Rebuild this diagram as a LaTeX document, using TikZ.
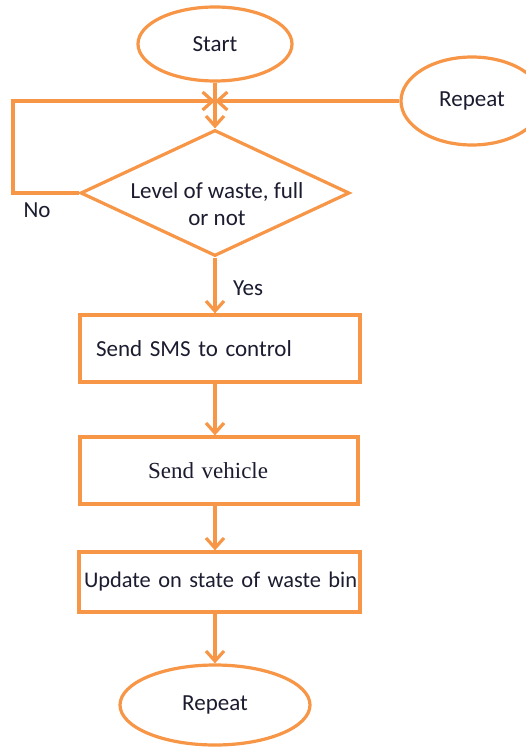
\documentclass[tikz,border=0pt]{standalone}
\usepackage{fontspec}
\setmainfont{Carlito}
\newfontfamily\timesfont{Liberation Serif}
\usetikzlibrary{shapes.geometric, arrows.meta}
\definecolor{binorange}{HTML}{F79646}
\definecolor{bintext}{HTML}{1C1C30}

\begin{document}
\begin{tikzpicture}[x=1pt, y=-1pt, line width=3.2pt, font=\fontsize{23}{27}\selectfont,
    every node/.style={draw=binorange, text=bintext, inner sep=0pt},
    plain/.style={draw=none},
    flow/.style={draw=binorange, -{Straight Barb[length=10pt,width=18pt]}}]
    \useasboundingbox[fill=white] (0,0) rectangle (526,749);
    % terminals
    \node[ellipse, minimum width=154, minimum height=74] (start) at (215,44) {Start};
    \node[ellipse, minimum width=142, minimum height=88] (rep1) at (472,101) {Repeat};
    \node[ellipse, minimum width=190, minimum height=80] (rep2) at (215,705) {Repeat};
    % decision
    \node[diamond, minimum width=269, minimum height=126] (level) at (215,193) {};
    \node[plain, align=center] (leveltxt) at (217,204) {Level of waste, full\\or not};
    % steps
    \node[rectangle, minimum width=280, minimum height=67, text width=248, inner xsep=16pt, align=left] (sms) at (220,348.5) {Send SMS to control};
    \node[rectangle, minimum width=278, minimum height=67, text width=246, inner xsep=16pt, align=left] (vehicle) at (219,470.5) {\hspace*{52pt}\timesfont Send vehicle};
    \node[rectangle, minimum width=281, minimum height=60, text width=271, inner xsep=5pt, align=center, font=\fontsize{22.4}{27}\selectfont] (update) at (219.5,582) {\raisebox{4pt}{Update on state of waste bin}};
    % labels
    \node[plain] (no) at (37,210) {No};
    \node[plain] (yes) at (248,288) {Yes};
    % connectors
    \coordinate (join) at (215,101);
    \coordinate (loopleft) at (13,101);
    \draw[flow] (start.south) -- (level.north);
    \draw[flow] (level.west) -| (loopleft) -- (join);
    \draw[flow] (rep1.west) -- (join);
    \draw[flow] (level.south) -- (level.south |- sms.north);
    \draw[flow] (sms.south -| level.south) -- (vehicle.north -| level.south);
    \draw[flow] (vehicle.south -| level.south) -- (update.north -| level.south);
    \draw[flow] (update.south -| level.south) -- (rep2.north);
\end{tikzpicture}
\end{document}
